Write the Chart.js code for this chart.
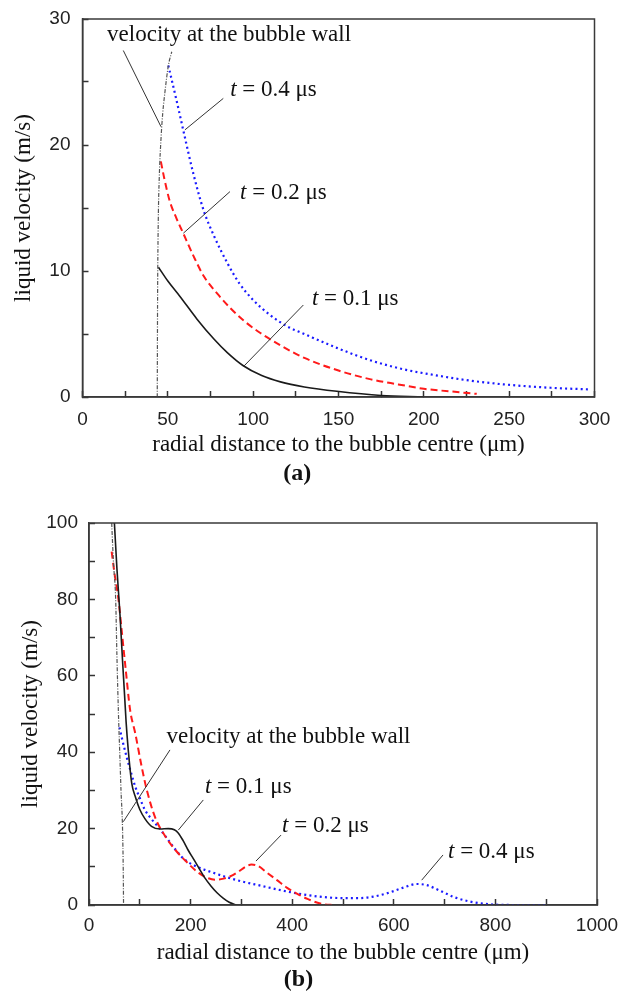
<!DOCTYPE html>
<html>
<head>
<meta charset="utf-8">
<script src="https://cdn.jsdelivr.net/npm/chart.js@4.4.1/dist/chart.umd.min.js"></script>
<style>
  html, body { margin: 0; padding: 0; background: #fff; }
  body { width: 620px; height: 994px; position: relative; overflow: hidden; }
  .panel { position: absolute; left: 0; width: 620px; }
  #panelA { top: 0; height: 490px; }
  #panelB { top: 490px; height: 504px; }
</style>
</head>
<body>
<div class="panel" id="panelA"><canvas id="chartA" width="620" height="490"></canvas></div>
<div class="panel" id="panelB"><canvas id="chartB" width="620" height="504"></canvas></div>
<script>
// ---- panel (a): 0 - 300 um ----
const aWallX = [43.8, 44, 44.4, 45, 46, 47, 48.3, 50.3, 52.3];
const aWallV = [0, 8, 14, 17.5, 20.5, 22.5, 24.2, 26.3, 27.4];
const aT1X = [44.5, 50, 57, 67, 77, 85, 94, 105, 116, 130, 149, 175, 200];
const aT1V = [10.3, 9.2, 8.0, 6.2, 4.6, 3.5, 2.5, 1.7, 1.2, 0.8, 0.45, 0.12, 0.02];
const aT2X = [45.9, 48, 51, 55, 59, 65, 71, 79, 87, 95, 104, 116, 130, 150, 169, 185, 200, 215, 231];
const aT2V = [18.7, 17.3, 15.6, 14.2, 13.0, 11.2, 9.6, 8.2, 7.0, 6.0, 5.1, 4.1, 3.1, 2.1, 1.4, 1.0, 0.65, 0.45, 0.25];
const aT4X = [50.3, 55, 59, 65, 71, 77, 85, 92, 100, 110, 120, 130, 149, 169, 188, 208, 227, 247, 266, 282, 298];
const aT4V = [26.3, 23.6, 21.2, 17.7, 14.8, 12.8, 10.6, 9.0, 7.7, 6.5, 5.6, 5.0, 3.9, 2.9, 2.2, 1.7, 1.3, 1.0, 0.8, 0.68, 0.6];
const aXLabels = [0, 50, 100, 150, 200, 250, 300];
const aYLabels = [0, 10, 20, 30];

// ---- panel (b): 0 - 1000 um ----
const bWallX = [44.7, 48, 52.5, 55, 58, 61, 63, 66, 67.5, 68];
const bWallV = [100, 90, 80, 65, 50, 38, 30, 20, 8, 0];
const bT1X = [50, 55, 61, 66, 70, 73, 77, 84, 92, 100, 110, 123, 140, 156, 168, 176, 185, 195, 205, 215, 228, 240, 252, 264, 276, 290];
const bT1V = [100, 88, 76, 64, 55, 48, 41, 32, 28, 25, 22.6, 20.6, 19.9, 20, 19.7, 18.8, 16.9, 14.4, 12.2, 10, 7.1, 5, 3.2, 1.8, 0.7, 0];
const bT2X = [44.6, 50, 58, 65, 72, 81, 91, 104, 114, 130, 150, 170, 195, 215, 235, 250, 265, 280, 295, 308, 320, 333, 350, 370, 390, 410, 430, 450, 465, 480];
const bT2V = [92.5, 87, 80, 71, 62, 51, 45, 36, 30, 23, 18, 14.4, 10.9, 8.5, 7.0, 6.6, 6.9, 7.6, 8.8, 10, 10.6, 10.2, 8.5, 6.5, 4.5, 2.9, 1.6, 0.6, 0.15, 0];
const bT4X = [60, 66, 74, 82, 91, 100, 110, 123, 136, 156, 172, 189, 208, 228, 250, 268, 300, 340, 380, 420, 460, 500, 530, 560, 590, 620, 645, 665, 690, 720, 750, 780, 810, 850, 900];
const bT4V = [46.5, 43, 38.8, 35, 31, 28, 24.9, 22.5, 20.5, 17, 14.2, 11.8, 10.3, 9.2, 8.2, 7.4, 6.2, 5, 3.8, 2.8, 2.1, 1.8, 1.8, 2.2, 3.2, 4.6, 5.5, 5.2, 3.8, 2.0, 0.9, 0.3, 0.05, 0, 0];
const bXLabels = [0, 200, 400, 600, 800, 1000];
const bYLabels = [0, 20, 40, 60, 80, 100];

// annotation placement (data coordinates)
const aNotes = [
  { text: 'velocity at the bubble wall', at: [14.4, 28.25], from: [23.9, 27.5], to: [46, 21.45] },
  { time: '0.4', at: [86.5, 23.9], from: [82.5, 23.7], to: [60, 21.2] },
  { time: '0.2', at: [92.3, 15.7], from: [86.4, 16.3], to: [59.1, 13.0] },
  { time: '0.1', at: [134.4, 7.3], from: [129.4, 7.3], to: [94.2, 2.4] }
];
const bNotes = [
  { text: 'velocity at the bubble wall', at: [152.6, 42.3], from: [159.4, 40.6], to: [67.5, 21.8] },
  { time: '0.1', at: [228.3, 29.2], from: [225, 27.5], to: [175.8, 19.6] },
  { time: '0.2', at: [380, 19.2], from: [378, 18.3], to: [328.7, 11.5] },
  { time: '0.4', at: [706.7, 12.2], from: [696.9, 13.1], to: [654.9, 6.5] }
];

const serif = '"Liberation Serif", "Times New Roman", serif';
const sans = '"Liberation Sans", Arial, sans-serif';

function pts(xs, vs) {
  return xs.map((x, i) => ({ x: x, y: vs[i] }));
}

const frameNotes = {
  id: 'frameNotes',
  afterDatasetsDraw(chart, args, opts) {
    const { ctx, chartArea: a } = chart;
    const x = chart.scales.x, y = chart.scales.y;
    ctx.save();
    ctx.strokeStyle = '#3a3a3a';
    ctx.lineWidth = 1.5;
    ctx.strokeRect(a.left, a.top, a.right - a.left, a.bottom - a.top);

    ctx.lineWidth = 1;
    ctx.strokeStyle = '#333';
    ctx.fillStyle = '#111';
    ctx.textAlign = 'left';
    ctx.textBaseline = 'alphabetic';
    opts.notes.forEach(n => {
      ctx.beginPath();
      ctx.moveTo(x.getPixelForValue(n.from[0]), y.getPixelForValue(n.from[1]));
      ctx.lineTo(x.getPixelForValue(n.to[0]), y.getPixelForValue(n.to[1]));
      ctx.stroke();
      let px = x.getPixelForValue(n.at[0]);
      const py = y.getPixelForValue(n.at[1]);
      if (n.time) {
        ctx.font = 'italic 23px ' + serif;
        ctx.fillText('t', px, py);
        px += ctx.measureText('t').width;
        ctx.font = '23px ' + serif;
        ctx.fillText(' = ' + n.time + ' \u03bcs', px, py);
      } else {
        ctx.font = '23px ' + serif;
        ctx.fillText(n.text, px, py);
      }
    });
    ctx.restore();
  }
};

function lineSet(data, color, width, dash) {
  return {
    data: data,
    borderColor: color,
    borderWidth: width,
    borderDash: dash,
    pointRadius: 0,
    fill: false,
    cubicInterpolationMode: 'monotone'
  };
}

function makeChart(id, p) {
  new Chart(document.getElementById(id), {
    type: 'line',
    data: {
      datasets: [
        lineSet(pts(p.wallX, p.wallV), '#555', 1.2, [4, 1.5, 1, 1.5]),
        lineSet(pts(p.t1X, p.t1V), '#1a1a1a', 1.6, []),
        lineSet(pts(p.t2X, p.t2V), '#ff1a1a', 2, [7, 4]),
        lineSet(pts(p.t4X, p.t4V), '#1a1aff', 2.2, [2, 3.2])
      ]
    },
    options: {
      responsive: false,
      animation: false,
      events: [],
      layout: { padding: { top: p.padTop, right: p.padRight, left: 0, bottom: 0 } },
      scales: {
        x: {
          type: 'linear',
          min: 0,
          max: p.xMax,
          ticks: {
            stepSize: p.xStep,
            autoSkip: false,
            maxRotation: 0,
            padding: p.xPad,
            color: '#222',
            font: { family: sans, size: 19 },
            callback: v => p.xLabels.includes(v) ? String(v) : ''
          },
          grid: { drawOnChartArea: false, tickLength: -6, tickColor: '#333', tickWidth: 1.5 },
          border: { color: '#3a3a3a', width: 1.5 },
          title: {
            display: true,
            text: 'radial distance to the bubble centre (\u03bcm)',
            color: '#111',
            font: { family: serif, size: 23 },
            padding: { top: 0, bottom: p.xTitlePad }
          },
          afterFit: s => { s.height = p.xHeight; s.paddingLeft = 0; s.paddingRight = 0; }
        },
        y: {
          min: 0,
          max: p.yMax,
          ticks: {
            stepSize: p.yStep,
            autoSkip: false,
            padding: p.yPad,
            color: '#222',
            font: { family: sans, size: 19 },
            callback: v => p.yLabels.includes(v) ? String(v) : ''
          },
          grid: { drawOnChartArea: false, tickLength: -6, tickColor: '#333', tickWidth: 1.5 },
          border: { color: '#3a3a3a', width: 1.5 },
          title: {
            display: true,
            text: 'liquid velocity (m/s)',
            color: '#111',
            font: { family: serif, size: 23 },
            padding: { top: p.yTitlePad, bottom: 0 }
          },
          afterFit: s => { s.width = p.yWidth; s.paddingTop = 0; s.paddingBottom = 0; }
        }
      },
      plugins: {
        legend: { display: false },
        tooltip: { enabled: false },
        title: {
          display: true,
          position: 'bottom',
          text: p.panel,
          color: '#111',
          font: { family: serif, size: 24, weight: 'bold' },
          padding: { top: 0, bottom: p.panelPad }
        },
        frameNotes: { notes: p.notes }
      }
    },
    plugins: [frameNotes]
  });
}

makeChart('chartA', {
  wallX: aWallX, wallV: aWallV, t1X: aT1X, t1V: aT1V, t2X: aT2X, t2V: aT2V, t4X: aT4X, t4V: aT4V,
  xLabels: aXLabels, yLabels: aYLabels, notes: aNotes, panel: '(a)',
  xMax: 300, xStep: 25, yMax: 30, yStep: 5,
  padTop: 19, padRight: 25.5, yWidth: 82.5, xHeight: 62.2,
  xPad: 17, yPad: 18, xTitlePad: 0, yTitlePad: 10, panelPad: 2
});

makeChart('chartB', {
  wallX: bWallX, wallV: bWallV, t1X: bT1X, t1V: bT1V, t2X: bT2X, t2V: bT2V, t4X: bT4X, t4V: bT4V,
  xLabels: bXLabels, yLabels: bYLabels, notes: bNotes, panel: '(b)',
  xMax: 1000, xStep: 100, yMax: 100, yStep: 10,
  padTop: 33, padRight: 23, yWidth: 89, xHeight: 60.2,
  xPad: 15, yPad: 17, xTitlePad: -2, yTitlePad: 17, panelPad: 0
});
</script>
</body>
</html>
